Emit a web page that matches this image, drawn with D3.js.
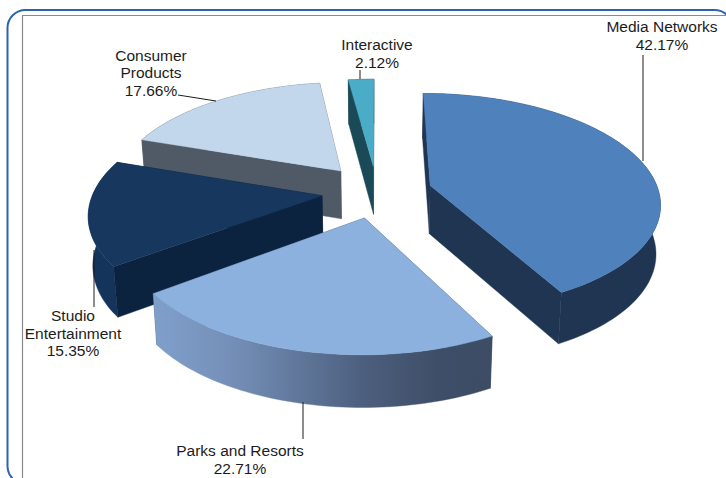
<!DOCTYPE html>
<html>
<head>
<meta charset="utf-8">
<style>
html,body{margin:0;padding:0;background:#fff;overflow:hidden}
svg{display:block}
text{font-family:"Liberation Sans",Arial,sans-serif;font-size:15.5px;fill:#1c1c1c}
</style>
<script src="https://cdn.jsdelivr.net/npm/d3@7/dist/d3.min.js"></script>
</head>
<body>
<svg id="chart" width="726" height="478"></svg>
<script>
// Disney segment revenue share, clockwise from twelve o'clock
const segments = ["Media Networks", "Parks and Resorts", "Studio Entertainment", "Consumer Products", "Interactive"];
const shares = [42.17, 22.71, 15.35, 17.66, 2.12];
const shareLabels = ["42.17%", "22.71%", "15.35%", "17.66%", "2.12%"];

const topColors = ["#4f81bd", "#8cb1df", "#17375e", "#c2d6ec", "#4bacc8"];
const radialColors = ["#1f3552", "#3d4d66", "#0c2340", "#505a66", "#1a4a57"];
const rimColors = ["#1f3552", "url(#parksRim)", "#15345c", "#505a66", "#1a4a57"];

// Label placement: baseline of the first text line and the leader segment
const labelLines = [["Media Networks"], ["Parks and Resorts"], ["Studio", "Entertainment"], ["Consumer", "Products"], ["Interactive"]];
const labelX = [662, 240, 73, 151, 377];
const labelTop = [32, 456, 321, 60.5, 50];
const leaders = [
  [[643, 55], [643, 161]],
  [[303, 402], [303, 439]],
  [[94, 250], [94, 307]],
  [[178, 95], [216, 101]],
  [[360, 70], [360, 79]]
];

const width = 726, height = 478;
const svg = d3.select("#chart");

// Ground-plane perspective: x to the right, z toward the viewer, radius 1
const centerX = 377, centerY = 191.7;
const perspective = 0.15, explode = 0.242, thickness = 48.5;
const explodeFactor = [1, 1, 1, 1.06, 1];
const xScale = d3.scaleLinear().domain([0, 1]).range([0, 228.5]);
const zScale = d3.scaleLinear().domain([0, 1]).range([0, 107.5]);

function project(x, z, depth) {
  const w = 1 - perspective * z;
  const sx = xScale(x) / w, sy = zScale(z) / w;
  return [
    centerX + sx * (1 - 0.016 * depth),
    centerY + sy + depth * thickness * (1 + 0.07 * z)
  ];
}

const pie = d3.pie().sort(null).startAngle(0).endAngle(2 * Math.PI);
const arcs = pie(shares);
const line = d3.line();

const defs = svg.append("defs");
const grad = defs.append("linearGradient").attr("id", "parksRim")
  .attr("gradientUnits", "userSpaceOnUse")
  .attr("x1", 155).attr("x2", 489).attr("y1", 0).attr("y2", 0);
[[0, "#7f9fcb"], [0.22, "#7590b8"], [0.45, "#5e7598"], [0.62, "#4d5f7e"], [0.85, "#3e4e68"], [1, "#3d4c64"]]
  .forEach(s => grad.append("stop").attr("offset", s[0]).attr("stop-color", s[1]));

// Rounded outer frame and the thin inner border
svg.append("rect").attr("x", 7.5).attr("y", 10).attr("width", 725).attr("height", 474).attr("rx", 18)
  .attr("fill", "none").attr("stroke", "#2b64ad").attr("stroke-width", 2);
svg.append("path").attr("d", `M22.5,${height}V15.5H${width}`)
  .attr("fill", "none").attr("stroke", "#8a8a8a").attr("stroke-width", 1.2);

function sliceGeometry(d, factor) {
  const mid = (d.startAngle + d.endAngle) / 2;
  const ox = explode * factor * Math.sin(mid), oz = -explode * factor * Math.cos(mid);
  const rim = (a) => [ox + Math.sin(a), oz - Math.cos(a)];
  const steps = Math.max(4, Math.ceil((d.endAngle - d.startAngle) * 40));
  const angles = d3.range(steps + 1).map(i => d.startAngle + (d.endAngle - d.startAngle) * i / steps);
  return { apex: [ox, oz], rim, angles };
}

// Painted from the back of the pie to the front
const paintOrder = [4, 3, 2, 1, 0];
paintOrder.forEach(i => {
  const d = arcs[i];
  const g = sliceGeometry(d, explodeFactor[i]);
  const group = svg.append("g");
  const face = (points, color) => group.append("path")
    .attr("d", line(points) + "Z").attr("fill", color)
    .attr("stroke", color).attr("stroke-width", 0.4).attr("stroke-linejoin", "round");
  const radialWall = (a) => {
    const p = g.rim(a);
    return [project(g.apex[0], g.apex[1], 0), project(p[0], p[1], 0),
            project(p[0], p[1], 1), project(g.apex[0], g.apex[1], 1)];
  };
  const edges = [d.startAngle, d.endAngle].sort((a, b) => g.rim(a)[1] - g.rim(b)[1]);
  const rimTop = g.angles.map(a => { const p = g.rim(a); return project(p[0], p[1], 0); });
  const rimBottom = g.angles.map(a => { const p = g.rim(a); return project(p[0], p[1], 1); }).reverse();

  face(radialWall(edges[0]), radialColors[i]);
  face(rimTop.concat(rimBottom), rimColors[i]);
  face(radialWall(edges[1]), radialColors[i]);
  face([project(g.apex[0], g.apex[1], 0)].concat(rimTop), topColors[i]);
});

// Leaders and labels
leaders.forEach(l => {
  svg.append("path").attr("d", line(l)).attr("fill", "none").attr("stroke", "#1c1c1c").attr("stroke-width", 1);
});
segments.forEach((name, i) => {
  const rows = labelLines[i].concat([shareLabels[i]]);
  const t = svg.append("text").attr("text-anchor", "middle").attr("aria-label", name);
  rows.forEach((r, k) => {
    t.append("tspan").attr("x", labelX[i]).attr("y", labelTop[i] + k * 17.7).text(r);
  });
});
</script>
</body>
</html>
